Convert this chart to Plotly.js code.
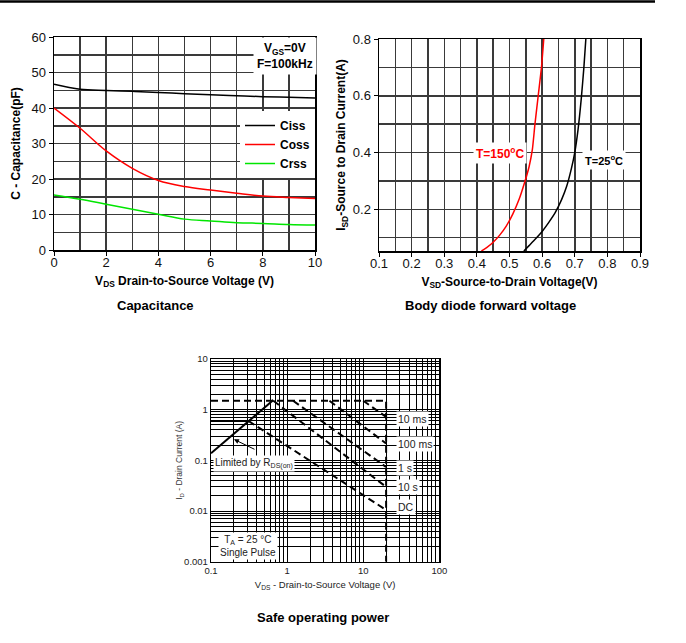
<!DOCTYPE html>
<html><head><meta charset="utf-8">
<script src="https://cdn.plot.ly/plotly-3.0.1.min.js"></script>
<style>html,body{margin:0;padding:0;background:#fff}</style>
</head><body><div id="chart" style="width:686px;height:643px"></div>
<script>
// ---------- Capacitance ----------
const capV = [0, 1, 2, 3, 4, 5, 6, 7, 8, 9, 10];
const ciss = [46.7, 45.3, 44.95, 44.7, 44.4, 44.0, 43.7, 43.45, 43.2, 43.0, 42.8];
const coss = [40.0, 34.3, 27.9, 23.0, 19.6, 17.9, 16.9, 16.0, 15.2, 14.8, 14.5];
const crss = [15.5, 14.3, 12.9, 11.5, 10.1, 8.7, 8.2, 7.7, 7.5, 7.2, 7.05];

// ---------- Body diode ----------
const vsd150 = [0.414, 0.43, 0.45, 0.47, 0.49, 0.51, 0.53, 0.547, 0.56, 0.57, 0.578, 0.588, 0.598, 0.605];
const isd150 = [0.053, 0.065, 0.084, 0.109, 0.141, 0.183, 0.237, 0.297, 0.35, 0.41, 0.50, 0.60, 0.70, 0.80];
const vsd25 = [0.544, 0.56, 0.58, 0.60, 0.62, 0.64, 0.66, 0.675, 0.69, 0.70, 0.71, 0.72, 0.728, 0.734];
const isd25 = [0.053, 0.072, 0.096, 0.122, 0.153, 0.188, 0.235, 0.28, 0.345, 0.40, 0.48, 0.59, 0.70, 0.80];

// ---------- Safe operating area ----------
const rdsV = [0.1, 0.66];       const rdsI = [0.138, 1.55];
const limV = [0.1, 20, 20];     const limI = [1.5, 1.5, 0.001];
const ms10V = [10, 20];         const ms10I = [1.5, 0.72];
const ms100V = [3.6, 20];       const ms100I = [1.5, 0.215];
const s1V = [1.2, 20];          const s1I = [1.5, 0.074];
const s10V = [0.66, 20];        const s10I = [1.5, 0.030];
const dcFlatV = [0.1, 0.31];    const dcFlatI = [0.6, 0.6];
const dcV = [0.31, 20];         const dcI = [0.6, 0.0105];
const soaLabels = ['10 ms', '100 ms', '1 s', '10 s', 'DC'];
const soaLabelI = [0.66, 0.211, 0.0718, 0.0303, 0.0119];
const soaXTicks = [0.1, 1, 10, 100];
const soaYTicks = [0.001, 0.01, 0.1, 1, 10];

const FONT = '"Liberation Sans", Arial, sans-serif';
const W = 686, H = 643;
const L = px => px / W, T = py => 1 - py / H;
const GRID = '#3a3a3a';

const dashStyle = {color: '#000', width: 2, dash: '7px,4px'};
const traces = [
  {x: capV, y: ciss, name: 'Ciss', mode: 'lines', line: {color: '#000', width: 1.5, shape: 'spline'}, xaxis: 'x', yaxis: 'y'},
  {x: capV, y: coss, name: 'Coss', mode: 'lines', line: {color: '#ff0000', width: 1.5, shape: 'spline'}, xaxis: 'x', yaxis: 'y'},
  {x: capV, y: crss, name: 'Crss', mode: 'lines', line: {color: '#00e600', width: 1.5, shape: 'spline'}, xaxis: 'x', yaxis: 'y'},
  {x: vsd150, y: isd150, name: 'T=150°C', mode: 'lines', showlegend: false, line: {color: '#ff0000', width: 1.5, shape: 'spline', smoothing: 0.6}, xaxis: 'x2', yaxis: 'y2'},
  {x: vsd25, y: isd25, name: 'T=25°C', mode: 'lines', showlegend: false, line: {color: '#000', width: 1.5, shape: 'spline', smoothing: 0.6}, xaxis: 'x2', yaxis: 'y2'},
  {x: rdsV, y: rdsI, mode: 'lines', showlegend: false, line: {color: '#000', width: 2}, xaxis: 'x3', yaxis: 'y3'},
  {x: limV, y: limI, mode: 'lines', showlegend: false, line: dashStyle, xaxis: 'x3', yaxis: 'y3'},
  {x: ms10V, y: ms10I, mode: 'lines', showlegend: false, line: dashStyle, xaxis: 'x3', yaxis: 'y3'},
  {x: ms100V, y: ms100I, mode: 'lines', showlegend: false, line: dashStyle, xaxis: 'x3', yaxis: 'y3'},
  {x: s1V, y: s1I, mode: 'lines', showlegend: false, line: dashStyle, xaxis: 'x3', yaxis: 'y3'},
  {x: s10V, y: s10I, mode: 'lines', showlegend: false, line: dashStyle, xaxis: 'x3', yaxis: 'y3'},
  {x: dcFlatV, y: dcFlatI, mode: 'lines', showlegend: false, line: {color: '#000', width: 2}, xaxis: 'x3', yaxis: 'y3'},
  {x: dcV, y: dcI, mode: 'lines', showlegend: false, line: dashStyle, xaxis: 'x3', yaxis: 'y3'}
];

const boxAxis = {
  showline: true, mirror: true, linecolor: '#000', linewidth: 1.5,
  ticks: 'outside', ticklen: 4, tickcolor: '#000', zeroline: false,
  showgrid: true, gridcolor: GRID, gridwidth: 1.5, automargin: false,
  tickfont: {size: 13, color: '#111', family: FONT}
};
const boldTitle = (text, standoff) => ({text, standoff, font: {size: 12, weight: 'bold', color: '#000', family: FONT}});

const minorSoaX = [], minorSoaY = [];
for (let e = -1; e < 2; e++) for (let d = 2; d <= 9; d++) minorSoaX.push(d * Math.pow(10, e));
for (let e = -3; e < 1; e++) for (let d = 2; d <= 9; d++) minorSoaY.push(d * Math.pow(10, e));
const soaAxis = {
  type: 'log', showline: true, mirror: true, linecolor: '#000', linewidth: 1.2,
  ticks: '', zeroline: false, showgrid: true, gridcolor: '#000', gridwidth: 1, automargin: false,
  tickfont: {size: 9.5, color: '#222', family: FONT}
};

const layout = {
  width: W, height: H, autosize: false,
  margin: {l: 0, r: 0, t: 0, b: 0},
  paper_bgcolor: '#fff', plot_bgcolor: '#fff',
  font: {family: FONT, color: '#000'},
  showlegend: true,
  legend: {x: L(240), y: T(111), xanchor: 'left', yanchor: 'top', bgcolor: '#fff', borderwidth: 0,
           font: {size: 12, weight: 'bold', family: FONT}, tracegroupgap: 0, itemwidth: 30},
  xaxis: Object.assign({}, boxAxis, {domain: [L(54), L(315)], anchor: 'y', range: [0, 10], dtick: 2, tick0: 0,
    ticklabelstandoff: -4,
    minor: {dtick: 1, tick0: 0, showgrid: true, gridcolor: GRID, gridwidth: 1.5},
    title: boldTitle('V<sub>DS</sub> Drain-to-Source Voltage (V)', 7)}),
  yaxis: Object.assign({}, boxAxis, {domain: [T(250), T(37)], anchor: 'x', range: [0, 60], dtick: 10, tick0: 0,
    minor: {dtick: 5, tick0: 0, showgrid: true, gridcolor: GRID, gridwidth: 1.5},
    title: boldTitle('C - Capacitance(pF)', 8)}),
  xaxis2: Object.assign({}, boxAxis, {domain: [L(379), L(640)], anchor: 'y2', range: [0.1, 0.9], dtick: 0.1, tick0: 0.1,
    tickformat: '.1f', ticklabelstandoff: -4,
    minor: {dtick: 0.05, tick0: 0.1, showgrid: true, gridcolor: GRID, gridwidth: 1.5},
    title: boldTitle('V<sub>SD</sub>-Source-to-Drain Voltage(V)', 7)}),
  yaxis2: Object.assign({}, boxAxis, {domain: [T(251), T(39)], anchor: 'x2', range: [0.053, 0.8],
    tickmode: 'array', tickvals: [0.2, 0.4, 0.6, 0.8], ticktext: ['0.2', '0.4', '0.6', '0.8'],
    minor: {tickmode: 'array', tickvals: [0.1, 0.3, 0.5, 0.7], showgrid: true, gridcolor: GRID, gridwidth: 1.5},
    title: boldTitle('I<sub>SD</sub>-Source to Drain Current(A)', 4)}),
  xaxis3: Object.assign({}, soaAxis, {domain: [L(211), L(439.3)], anchor: 'y3', range: [-1, 2],
    tickmode: 'array', tickvals: soaXTicks, ticktext: soaXTicks.map(String),
    minor: {tickmode: 'array', tickvals: minorSoaX, showgrid: true, gridcolor: '#000', gridwidth: 1},
    title: {text: 'V<sub>DS</sub> - Drain-to-Source Voltage (V)', standoff: 6, font: {size: 9.5, color: '#222', family: FONT}}}),
  yaxis3: Object.assign({}, soaAxis, {domain: [T(561.7), T(359)], anchor: 'x3', range: [-3, 1],
    tickmode: 'array', tickvals: soaYTicks, ticktext: soaYTicks.map(String),
    minor: {tickmode: 'array', tickvals: minorSoaY, showgrid: true, gridcolor: '#000', gridwidth: 1},
    title: {text: 'I<sub>D</sub> - Drain Current (A)', standoff: 0, font: {size: 8.5, color: '#333', family: FONT}}}),
  shapes: [
    {type: 'line', xref: 'paper', yref: 'paper', x0: 0, x1: L(655), y0: T(1.5), y1: T(1.5), line: {color: '#000', width: 2.5}}
  ],
  annotations: []
};

const ann = layout.annotations;
const sub = (text, xpx, ypx) => ann.push({text, xref: 'paper', yref: 'paper', x: L(xpx), y: T(ypx),
  xanchor: 'center', yanchor: 'middle', showarrow: false, font: {size: 13, weight: 'bold', family: FONT, color: '#000'}});
sub('Capacitance', 155, 305);
sub('Body diode forward voltage', 490, 305);
sub('Safe operating power', 323, 617);

ann.push({text: 'V<sub>GS</sub>=0V<br>F=100kHz', xref: 'x', yref: 'y', x: 8.85, y: 54.6, xanchor: 'center', yanchor: 'middle',
  showarrow: false, bgcolor: '#fff', borderpad: 3, font: {size: 12, weight: 'bold', family: FONT, color: '#000'}});
ann.push({text: 'T=150<sup>o</sup>C', xref: 'x2', yref: 'y2', x: 0.47, y: 0.40, xanchor: 'center', yanchor: 'middle',
  showarrow: false, bgcolor: '#fff', borderpad: 2, font: {size: 12, weight: 'bold', family: FONT, color: '#ff0000'}});
ann.push({text: 'T=25<sup>o</sup>C', xref: 'x2', yref: 'y2', x: 0.79, y: 0.373, xanchor: 'center', yanchor: 'middle',
  showarrow: false, bgcolor: '#fff', borderpad: 2, font: {size: 11, weight: 'bold', family: FONT, color: '#000'}});

const lg = Math.log10;
soaLabels.forEach((t, i) => ann.push({text: t, xref: 'x3', yref: 'y3', x: lg(27), y: lg(soaLabelI[i]),
  xanchor: 'left', yanchor: 'middle', showarrow: false, bgcolor: '#fff', borderpad: 1,
  font: {size: 10.5, family: FONT, color: '#222'}}));
ann.push({text: 'Limited by R<sub>DS(on)</sub>', xref: 'x3', yref: 'y3', x: lg(0.106), y: lg(0.085),
  xanchor: 'left', yanchor: 'middle', showarrow: false, bgcolor: '#fff', borderpad: 1,
  font: {size: 10, family: FONT, color: '#222'}});
ann.push({text: 'T<sub>A</sub> = 25 °C<br>Single Pulse', xref: 'x3', yref: 'y3', x: lg(0.307), y: lg(0.002),
  xanchor: 'center', yanchor: 'middle', showarrow: false, bgcolor: '#fff', borderpad: 1,
  font: {size: 10, family: FONT, color: '#222'}});
ann.push({text: '', xref: 'x3', yref: 'y3', x: lg(0.2), y: lg(0.26), axref: 'x3', ayref: 'y3', ax: lg(0.39), ay: lg(0.16),
  showarrow: true, arrowhead: 2, arrowsize: 1, arrowwidth: 1, arrowcolor: '#000'});

Plotly.newPlot('chart', traces, layout, {displayModeBar: false, staticPlot: true});
</script>
</body></html>
